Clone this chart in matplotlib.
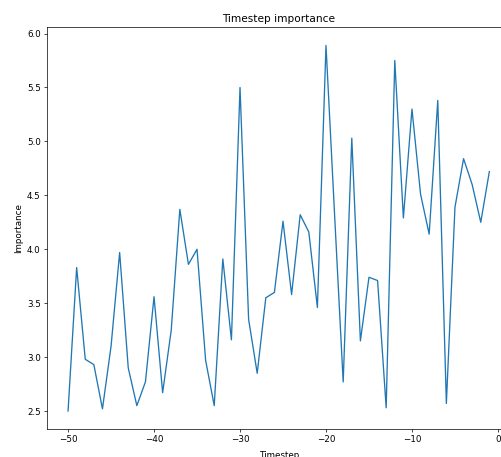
import matplotlib
matplotlib.use("Agg")
import matplotlib.pyplot as plt

# timestep offsets (last 50 steps) and their importance scores
timesteps = list(range(-50, 0))
importance = [2.50, 3.83, 2.98, 2.93, 2.52, 3.10, 3.97, 2.90, 2.55, 2.77,
              3.56, 2.67, 3.25, 4.37, 3.86, 4.00, 2.97, 2.55, 3.91, 3.16,
              5.50, 3.35, 2.85, 3.55, 3.60, 4.26, 3.58, 4.32, 4.16, 3.46,
              5.89, 4.32, 2.77, 5.03, 3.15, 3.74, 3.71, 2.53, 5.75, 4.29,
              5.30, 4.51, 4.14, 5.38, 2.57, 4.39, 4.84, 4.60, 4.25, 4.72]

dpi = 63
fig = plt.figure(figsize=(501 / dpi, 457 / dpi), dpi=dpi)
ax = fig.add_axes([0.0938, 0.0606, 0.925, 0.880])
ax.plot(timesteps, importance)
ax.set_xlabel("Timestep", labelpad=8)
ax.set_ylabel("Importance")
ax.set_title("Timestep importance")
fig.savefig("out.png", dpi=dpi)
